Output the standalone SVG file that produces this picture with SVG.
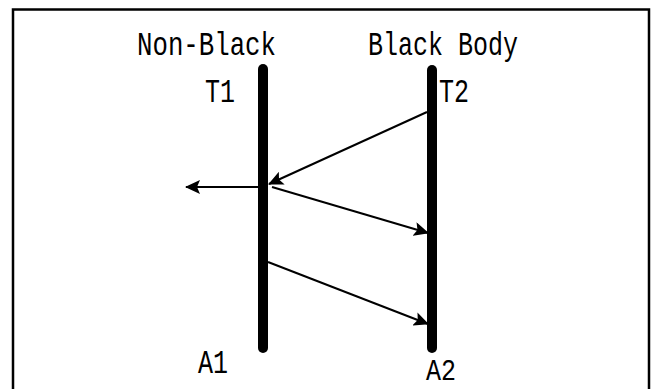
<svg xmlns="http://www.w3.org/2000/svg" width="651" height="389" viewBox="0 0 651 389">
<style>
.lbl{font-family:"Liberation Mono","DejaVu Sans Mono",monospace;font-size:25px;fill:#000}
.bar{stroke:#000;stroke-width:10;stroke-linecap:round;fill:none}
.ray{stroke:#000;stroke-width:2;fill:none;marker-end:url(#ah)}
</style>
<defs>
<marker id="ah" markerUnits="userSpaceOnUse" markerWidth="15" markerHeight="14" refX="14" refY="7" orient="auto">
<path d="M0,0 L15,7 L0,14 L3,7 z" fill="#000"/>
</marker>
</defs>
<rect width="651" height="389" fill="#fff"/>
<path d="M13,389 V9.5 H649 V389" fill="none" stroke="#000" stroke-width="2.5"/>
<g id="nonblack">
<line class="bar" x1="263" y1="69" x2="263" y2="348"/>
<text class="lbl" transform="translate(137,55) scale(1,1.3)" textLength="139" lengthAdjust="spacingAndGlyphs">Non-Black</text>
<text class="lbl" transform="translate(205,102) scale(1,1.3)">T1</text>
<text class="lbl" transform="translate(198,373) scale(1,1.3)">A1</text>
</g>
<g id="blackbody">
<line class="bar" x1="432" y1="70" x2="432" y2="348"/>
<text class="lbl" transform="translate(368,55) scale(1,1.3)" textLength="150" lengthAdjust="spacingAndGlyphs">Black Body</text>
<text class="lbl" transform="translate(439,102) scale(1,1.3)">T2</text>
<text class="lbl" transform="translate(426,380) scale(1,1.2)">A2</text>
</g>
<g id="connectors">
<line class="ray" x1="427" y1="112" x2="269" y2="184"/>
<line class="ray" x1="272" y1="187" x2="428" y2="233"/>
<line class="ray" x1="258" y1="187" x2="186" y2="187"/>
<line class="ray" x1="268" y1="262" x2="428" y2="324"/>
</g>
</svg>
